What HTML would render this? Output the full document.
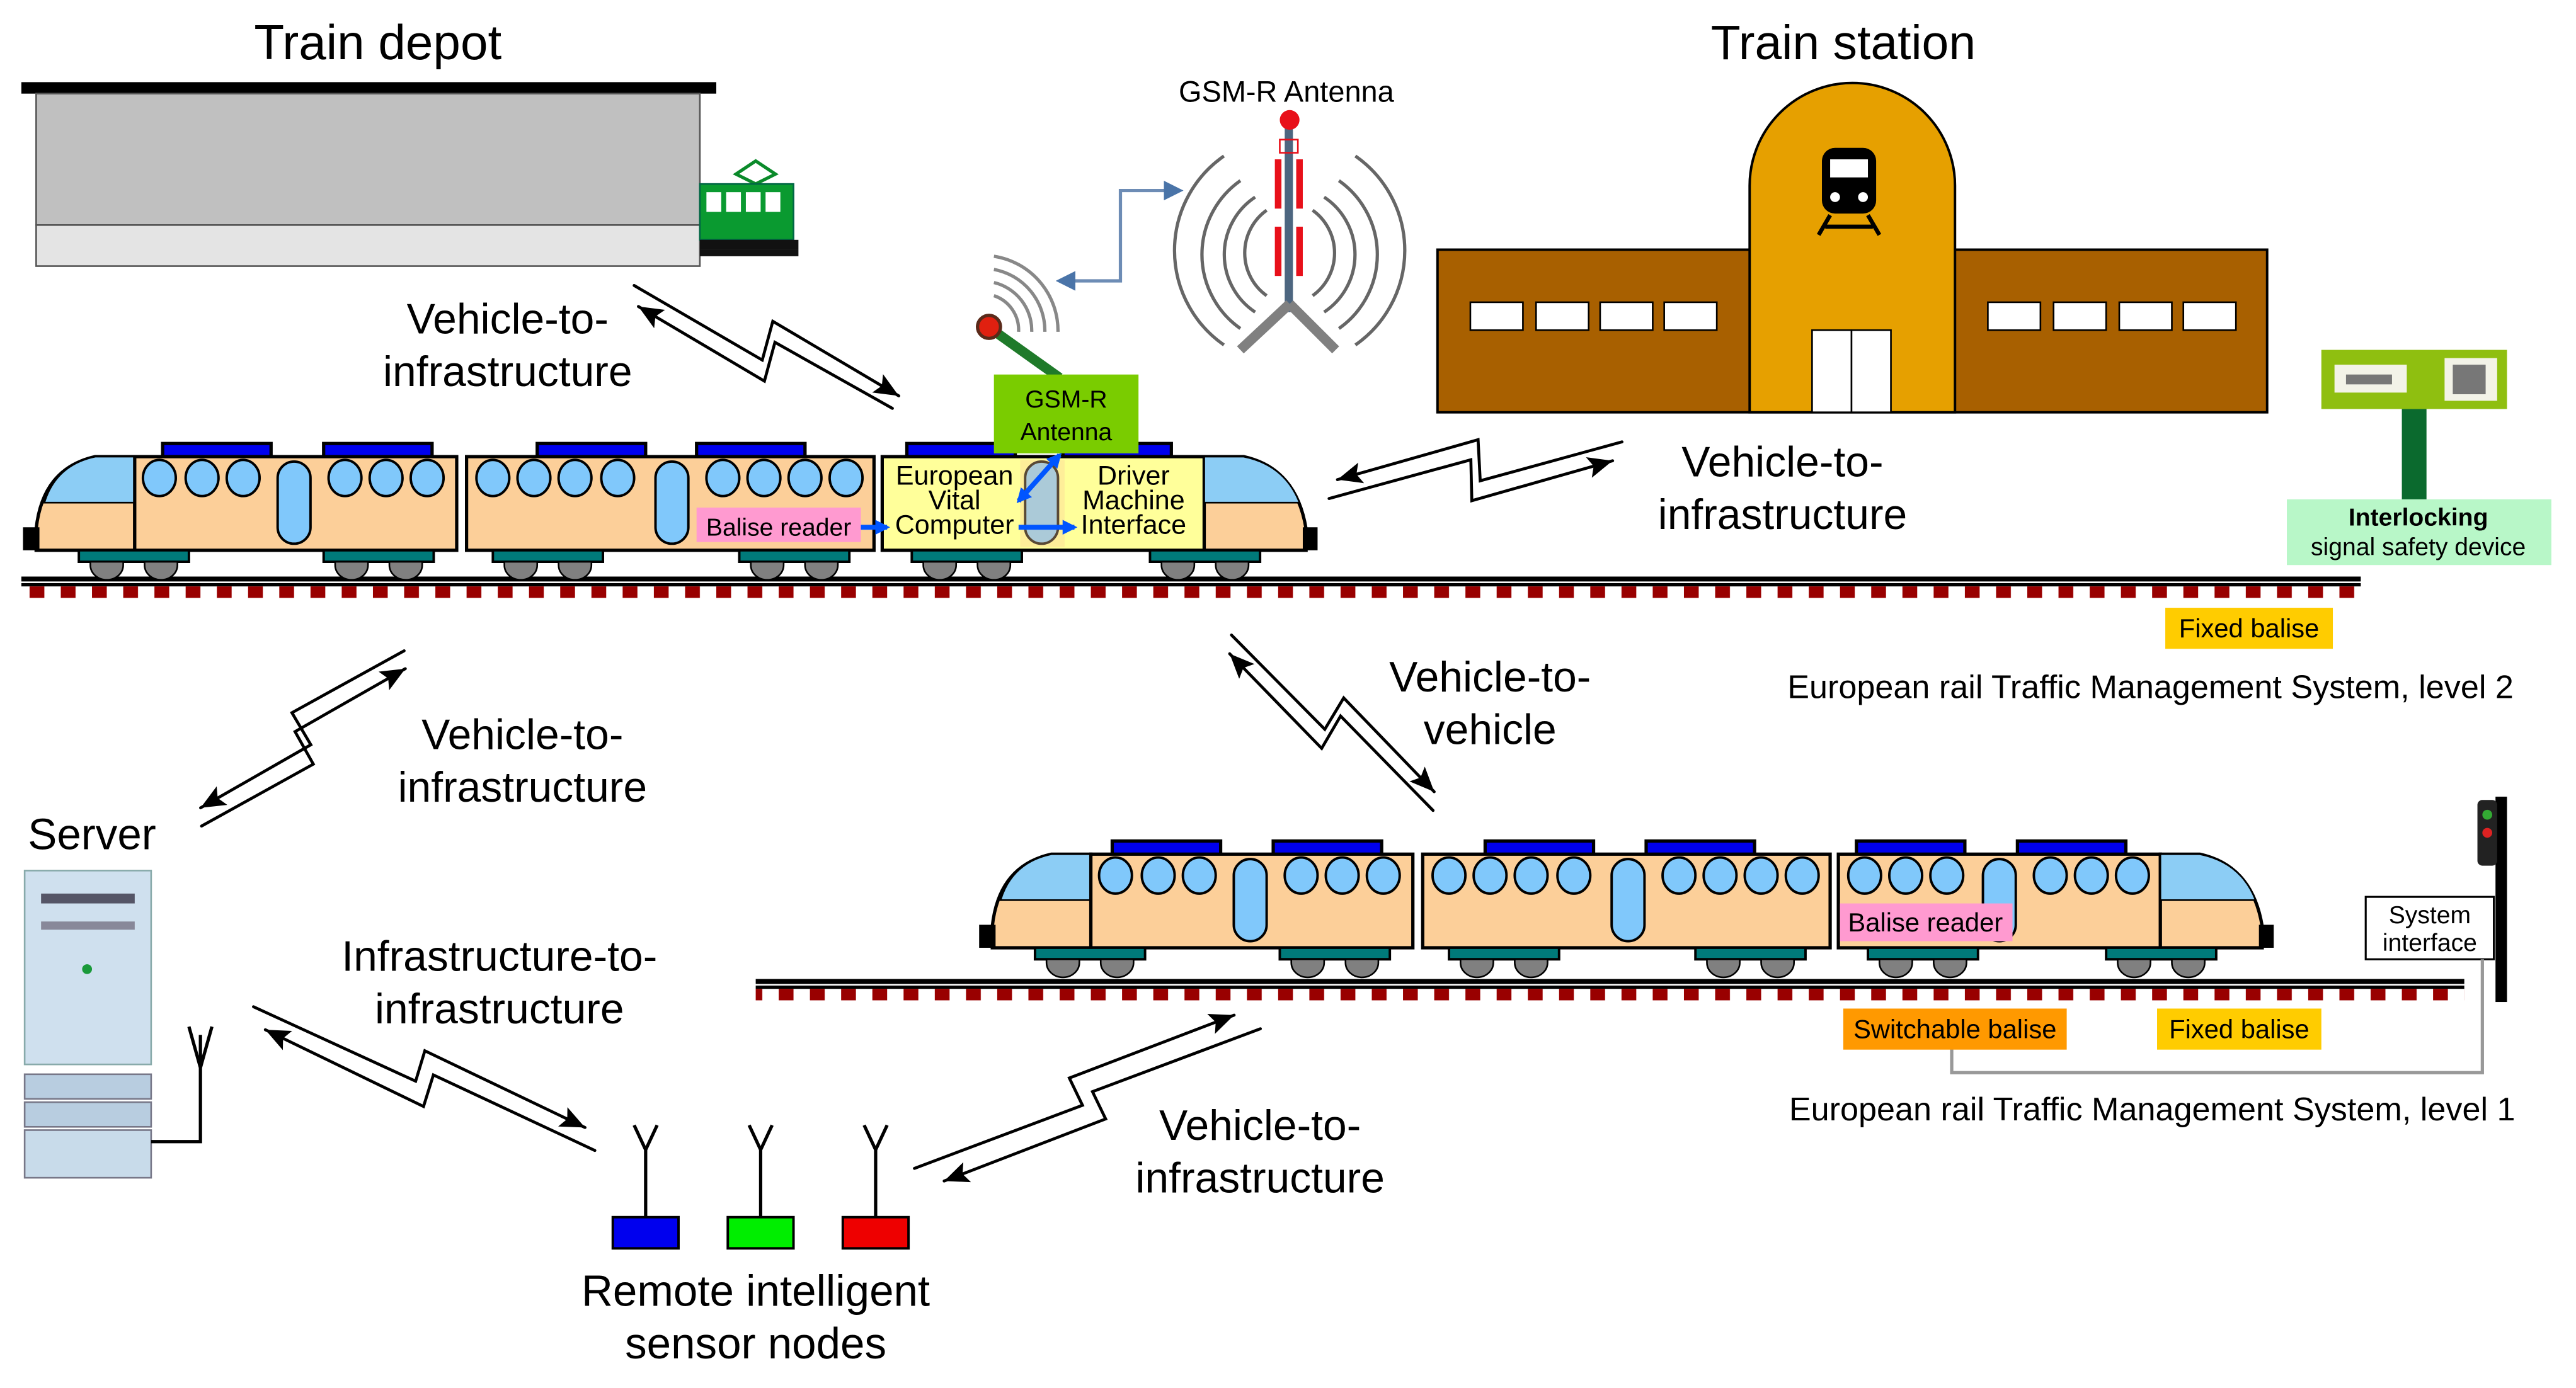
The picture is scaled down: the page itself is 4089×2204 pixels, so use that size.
<!DOCTYPE html>
<html><head><meta charset="utf-8">
<style>
html,body{margin:0;padding:0;background:#fff;}
svg{display:block;}
text{font-family:"Liberation Sans",Arial,sans-serif;fill:#000;}
</style></head>
<body>
<svg xmlns="http://www.w3.org/2000/svg" width="4089" height="2204" viewBox="0 0 1568 845" preserveAspectRatio="none">
<defs>
<marker id="ah" viewBox="0 0 10 10" refX="10" refY="5" markerWidth="15" markerHeight="13" markerUnits="userSpaceOnUse" orient="auto" preserveAspectRatio="none"><path d="M0,0 L10,5 L0,10 L2,5 z" fill="#000"/></marker>
<marker id="bh" viewBox="0 0 10 10" refX="8" refY="5" markerWidth="12" markerHeight="12" markerUnits="userSpaceOnUse" orient="auto-start-reverse"><path d="M0,0 L10,5 L0,10 z" fill="#4a74a8"/></marker>
<marker id="blh" viewBox="0 0 10 10" refX="8" refY="5" markerWidth="9" markerHeight="9" markerUnits="userSpaceOnUse" orient="auto-start-reverse"><path d="M0,0 L10,5 L0,10 z" fill="#0055ff"/></marker>
<pattern id="sl" x="18" y="0" width="19" height="10" patternUnits="userSpaceOnUse"><rect x="0" y="0" width="9" height="10" fill="#990000"/></pattern>
<g id="bog">
 <path d="M0,0 h67 v7 h-67z" fill="#007a7a" stroke="#000" stroke-width="1.5"/>
 <path d="M7,7 h20 v2 a10,9 0 0 1 -20,0z M40,7 h20 v2 a10,9 0 0 1 -20,0z" fill="#808080" stroke="#000" stroke-width="1"/>
</g>
<g id="roof"><rect x="0" y="0" width="66" height="10" fill="#0000ee" stroke="#000" stroke-width="2"/></g>
</defs>

<!-- ===== Depot ===== -->
<text x="230" y="36" font-size="30" text-anchor="middle">Train depot</text>
<rect x="13" y="50" width="423" height="7" fill="#000"/>
<rect x="22" y="57" width="404" height="80" fill="#c0c0c0" stroke="#555" stroke-width="1"/>
<rect x="22" y="137" width="404" height="25" fill="#e4e4e4" stroke="#555" stroke-width="1"/>
<path d="M448,106 l12,-8 l12,8 l-12,6z" fill="none" stroke="#0a8a2a" stroke-width="2"/>
<rect x="426" y="112" width="57" height="34" fill="#0a9a30" stroke="#064" stroke-width="1"/>
<rect x="430" y="117" width="9" height="12" fill="#fff"/><rect x="442" y="117" width="9" height="12" fill="#fff"/><rect x="454" y="117" width="9" height="12" fill="#fff"/><rect x="466" y="117" width="9" height="12" fill="#fff"/>
<rect x="426" y="146" width="60" height="6" fill="#111"/>
<rect x="426" y="152" width="60" height="4" fill="#111"/>

<!-- ===== GSM-R ===== -->
<text x="783" y="62" font-size="18" text-anchor="middle" fill="#222">GSM-R Antenna</text>
<g fill="none" stroke="#666" stroke-width="2">
 <path d="M745,95 A70,70 0 0 0 745,210"/><path d="M825,95 A70,70 0 0 1 825,210"/>
 <path d="M755,110 A55,55 0 0 0 755,200"/><path d="M815,110 A55,55 0 0 1 815,200"/>
 <path d="M764,120 A42,42 0 0 0 764,190"/><path d="M806,120 A42,42 0 0 1 806,190"/>
 <path d="M771,128 A32,32 0 0 0 771,180"/><path d="M799,128 A32,32 0 0 1 799,180"/>
</g>
<rect x="782" y="78" width="5" height="112" fill="#4d6680"/>
<circle cx="785" cy="73" r="6" fill="#e8101a"/>
<rect x="776" y="97" width="4" height="30" fill="#e8101a"/><rect x="789" y="97" width="4" height="30" fill="#e8101a"/>
<rect x="776" y="138" width="4" height="30" fill="#e8101a"/><rect x="789" y="138" width="4" height="30" fill="#e8101a"/>
<rect x="779" y="85" width="11" height="8" fill="none" stroke="#e8101a" stroke-width="1"/>
<path d="M785,185 L755,213 M785,185 L813,213" stroke="#808080" stroke-width="6" fill="none"/>
<path d="M645,171 H682 V116 H718" fill="none" stroke="#6d8cb5" stroke-width="2" marker-start="url(#bh)" marker-end="url(#bh)"/>
<g fill="none" stroke="#888" stroke-width="2">
 <path d="M605,180 A22,22 0 0 1 620,202"/><path d="M605,172 A30,30 0 0 1 628,202"/><path d="M605,164 A38,38 0 0 1 636,202"/><path d="M605,156 A46,46 0 0 1 644,202"/>
</g>
<path d="M603,200 L645,230" stroke="#1f7a2a" stroke-width="6"/>
<circle cx="602" cy="199" r="7" fill="#e02010" stroke="#5a2a1a" stroke-width="2"/>

<!-- ===== Station ===== -->
<text x="1122" y="36" font-size="29.5" text-anchor="middle">Train station</text>
<rect x="875" y="152" width="505" height="99" fill="#a86000" stroke="#000" stroke-width="1.5"/>
<path d="M1065,251 V113 A62.5,62.5 0 0 1 1190,113 V251z" fill="#e6a000" stroke="#000" stroke-width="1.5"/>
<g fill="#fff" stroke="#000" stroke-width="1">
<rect x="895" y="184" width="32" height="17"/><rect x="935" y="184" width="32" height="17"/><rect x="974" y="184" width="32" height="17"/><rect x="1013" y="184" width="32" height="17"/>
<rect x="1210" y="184" width="32" height="17"/><rect x="1250" y="184" width="32" height="17"/><rect x="1290" y="184" width="32" height="17"/><rect x="1329" y="184" width="32" height="17"/>
<rect x="1103" y="201" width="24" height="50"/><rect x="1127" y="201" width="24" height="50"/>
</g>
<rect x="1109" y="90" width="33" height="40" rx="8" fill="#000"/>
<rect x="1114" y="97" width="23" height="11" fill="#fff"/>
<circle cx="1117" cy="120" r="3" fill="#fff"/><circle cx="1134" cy="120" r="3" fill="#fff"/>
<path d="M1114,131 L1107,143 M1137,131 L1144,143 M1111,138 H1140" stroke="#000" stroke-width="2.5"/>

<!-- ===== Interlocking ===== -->
<rect x="1413" y="213" width="113" height="36" fill="#8fbf10"/>
<rect x="1421" y="222" width="44" height="17" fill="#f3f3e8"/><rect x="1428" y="228" width="28" height="6" fill="#777"/>
<rect x="1488" y="218" width="32" height="26" fill="#f3f3e8"/><rect x="1493" y="222" width="20" height="18" fill="#777"/>
<rect x="1462" y="249" width="15" height="55" fill="#0b6a2e"/>
<rect x="1392" y="304" width="161" height="40" fill="#b8f7c8"/>
<text x="1472" y="320" font-size="15" font-weight="bold" text-anchor="middle">Interlocking</text>
<text x="1472" y="338" font-size="15" text-anchor="middle">signal safety device</text>

<!-- ===== Track 1 ===== -->
<rect x="13" y="351" width="1424" height="3" fill="#000"/>
<rect x="13" y="355" width="1424" height="2" fill="#000"/>
<rect x="13" y="357" width="1424" height="7" fill="url(#sl)"/>

<!-- ===== Train 1 ===== -->
<g stroke="#000" stroke-width="2">
 <use href="#roof" x="99" y="270"/><use href="#roof" x="197" y="270"/>
 <use href="#roof" x="327" y="270"/><use href="#roof" x="424" y="270"/>
 <use href="#roof" x="552" y="270"/><use href="#roof" x="647" y="270"/>
 <path d="M22,335 V322 Q26,285 58,278 H82 V335z" fill="#fccf99"/>
 <path d="M82,278 H58 Q34,283 27,306 H82z" fill="#8ccdf5" stroke-width="1"/>
 <rect x="82" y="278" width="196" height="57" fill="#fccf99"/>
 <rect x="15" y="322" width="8" height="12" fill="#000"/>
 <rect x="284" y="278" width="248" height="57" fill="#fccf99"/>
 <rect x="537" y="278" width="196" height="57" fill="#ffff9a"/>
 <path d="M733,335 V278 H757 Q789,285 795,322 V335z" fill="#fccf99"/>
 <path d="M733,278 H757 Q782,283 791,306 H733z" fill="#8ccdf5" stroke-width="1"/>
 <rect x="794" y="322" width="7" height="12" fill="#000"/>
</g>
<g fill="#80c8fb" stroke="#000" stroke-width="1.5">
 <ellipse cx="97" cy="291" rx="10" ry="11"/><ellipse cx="123" cy="291" rx="10" ry="11"/><ellipse cx="148" cy="291" rx="10" ry="11"/>
 <rect x="169" y="281" width="20" height="50" rx="10"/>
 <ellipse cx="210" cy="291" rx="10" ry="11"/><ellipse cx="235" cy="291" rx="10" ry="11"/><ellipse cx="260" cy="291" rx="10" ry="11"/>
 <ellipse cx="300" cy="291" rx="10" ry="11"/><ellipse cx="325" cy="291" rx="10" ry="11"/><ellipse cx="350" cy="291" rx="10" ry="11"/><ellipse cx="376" cy="291" rx="10" ry="11"/>
 <rect x="399" y="281" width="20" height="50" rx="10"/>
 <ellipse cx="440" cy="291" rx="10" ry="11"/><ellipse cx="465" cy="291" rx="10" ry="11"/><ellipse cx="490" cy="291" rx="10" ry="11"/><ellipse cx="515" cy="291" rx="10" ry="11"/>
 <rect x="624" y="281" width="20" height="50" rx="10"/>
</g>
<rect x="621" y="280" width="27" height="53" fill="#fccf99" opacity="0.35"/>
<use href="#bog" x="48" y="335"/><use href="#bog" x="197" y="335"/>
<use href="#bog" x="300" y="335"/><use href="#bog" x="450" y="335"/>
<use href="#bog" x="555" y="335"/><use href="#bog" x="700" y="335"/>
<rect x="424" y="309" width="100" height="21" fill="#ff9ad0"/>
<text x="474" y="326" font-size="15" text-anchor="middle">Balise reader</text>
<rect x="605" y="228" width="88" height="48" fill="#7acc00"/>
<text x="649" y="248" font-size="15" text-anchor="middle">GSM-R</text>
<text x="649" y="268" font-size="15" text-anchor="middle">Antenna</text>
<text font-size="16.5" text-anchor="middle"><tspan x="581" y="295">European</tspan><tspan x="581" y="310">Vital</tspan><tspan x="581" y="325">Computer</tspan></text>
<text font-size="16.5" text-anchor="middle"><tspan x="690" y="295">Driver</tspan><tspan x="690" y="310">Machine</tspan><tspan x="690" y="325">Interface</tspan></text>
<g stroke="#0055ff" stroke-width="3" fill="none">
 <path d="M524,321 H540" marker-end="url(#blh)"/>
 <path d="M620,321 H654" marker-end="url(#blh)"/>
 <path d="M620,305 L645,277" marker-start="url(#blh)" marker-end="url(#blh)"/>
</g>

<!-- ===== Track 2 ===== -->
<rect x="460" y="596" width="1040" height="3" fill="#000"/>
<rect x="460" y="600" width="1040" height="2" fill="#000"/>
<rect x="460" y="602" width="1040" height="7" fill="url(#sl)"/>

<!-- ===== Train 2 ===== -->
<g transform="translate(582,242)">
<g stroke="#000" stroke-width="2">
 <use href="#roof" x="95" y="270"/><use href="#roof" x="193" y="270"/>
 <use href="#roof" x="322" y="270"/><use href="#roof" x="420" y="270"/>
 <use href="#roof" x="548" y="270"/><use href="#roof" x="646" y="270"/>
 <path d="M22,335 V322 Q26,285 58,278 H82 V335z" fill="#fccf99"/>
 <path d="M82,278 H58 Q34,283 27,306 H82z" fill="#8ccdf5" stroke-width="1"/>
 <rect x="82" y="278" width="196" height="57" fill="#fccf99"/>
 <rect x="15" y="322" width="8" height="12" fill="#000"/>
 <rect x="284" y="278" width="248" height="57" fill="#fccf99"/>
 <rect x="537" y="278" width="196" height="57" fill="#fccf99"/>
 <path d="M733,335 V278 H757 Q789,285 795,322 V335z" fill="#fccf99"/>
 <path d="M733,278 H757 Q782,283 791,306 H733z" fill="#8ccdf5" stroke-width="1"/>
 <rect x="794" y="322" width="7" height="12" fill="#000"/>
</g>
<g fill="#80c8fb" stroke="#000" stroke-width="1.5">
 <ellipse cx="97" cy="291" rx="10" ry="11"/><ellipse cx="123" cy="291" rx="10" ry="11"/><ellipse cx="148" cy="291" rx="10" ry="11"/>
 <rect x="169" y="281" width="20" height="50" rx="10"/>
 <ellipse cx="210" cy="291" rx="10" ry="11"/><ellipse cx="235" cy="291" rx="10" ry="11"/><ellipse cx="260" cy="291" rx="10" ry="11"/>
 <ellipse cx="300" cy="291" rx="10" ry="11"/><ellipse cx="325" cy="291" rx="10" ry="11"/><ellipse cx="350" cy="291" rx="10" ry="11"/><ellipse cx="376" cy="291" rx="10" ry="11"/>
 <rect x="399" y="281" width="20" height="50" rx="10"/>
 <ellipse cx="440" cy="291" rx="10" ry="11"/><ellipse cx="465" cy="291" rx="10" ry="11"/><ellipse cx="490" cy="291" rx="10" ry="11"/><ellipse cx="515" cy="291" rx="10" ry="11"/>
 <ellipse cx="553" cy="291" rx="10" ry="11"/><ellipse cx="578" cy="291" rx="10" ry="11"/><ellipse cx="603" cy="291" rx="10" ry="11"/>
 <rect x="625" y="281" width="20" height="50" rx="10"/>
 <ellipse cx="666" cy="291" rx="10" ry="11"/><ellipse cx="691" cy="291" rx="10" ry="11"/><ellipse cx="716" cy="291" rx="10" ry="11"/>
</g>
<use href="#bog" x="48" y="335"/><use href="#bog" x="197" y="335"/>
<use href="#bog" x="300" y="335"/><use href="#bog" x="450" y="335"/>
<use href="#bog" x="555" y="335"/><use href="#bog" x="700" y="335"/>
<rect x="538" y="308" width="105" height="23" fill="#ff9ad0"/>
<text x="590" y="325" font-size="16" text-anchor="middle">Balise reader</text>
</g>

<!-- ===== Right lower ===== -->
<rect x="1519" y="485" width="7" height="125" fill="#000"/>
<rect x="1508" y="487" width="12" height="40" rx="3" fill="#222"/>
<circle cx="1514" cy="496" r="3" fill="#3a3"/><circle cx="1514" cy="507" r="3" fill="#d22"/>
<rect x="1440" y="546" width="78" height="38" fill="#fff" stroke="#000" stroke-width="1.2"/>
<text x="1479" y="562" font-size="15" text-anchor="middle">System</text>
<text x="1479" y="579" font-size="15" text-anchor="middle">interface</text>
<path d="M1188,638 V653 H1511 V584" fill="none" stroke="#999" stroke-width="2"/>
<rect x="1122" y="614" width="136" height="25" fill="#ff9900"/>
<text x="1190" y="632" font-size="16" text-anchor="middle">Switchable balise</text>
<rect x="1313" y="614" width="100" height="25" fill="#ffcc00"/>
<text x="1363" y="632" font-size="16" text-anchor="middle">Fixed balise</text>
<rect x="1318" y="370" width="102" height="25" fill="#ffcc00"/>
<text x="1369" y="388" font-size="16" text-anchor="middle">Fixed balise</text>
<text x="1309" y="425" font-size="20" text-anchor="middle">European rail Traffic Management System, level 2</text>
<text x="1310" y="682" font-size="20" text-anchor="middle">European rail Traffic Management System, level 1</text>

<!-- ===== Server ===== -->
<text x="56" y="517" font-size="26.5" text-anchor="middle">Server</text>
<rect x="15" y="530" width="77" height="118" fill="#cfe0ee" stroke="#8aa" stroke-width="1"/>
<rect x="25" y="544" width="57" height="6" fill="#556" /><rect x="25" y="561" width="57" height="5" fill="#889"/>
<circle cx="53" cy="590" r="3" fill="#1a9a3a"/>
<rect x="15" y="654" width="77" height="15" fill="#b8cde0" stroke="#778" stroke-width="1"/>
<rect x="15" y="671" width="77" height="15" fill="#b8cde0" stroke="#778" stroke-width="1"/>
<rect x="15" y="688" width="77" height="29" fill="#c8dbea" stroke="#778" stroke-width="1"/>
<path d="M92,695 H122 V630 M122,650 L115,625 M122,650 L129,625" fill="none" stroke="#000" stroke-width="2"/>

<!-- ===== Sensors ===== -->
<g fill="none" stroke="#000" stroke-width="2">
 <path d="M393,741 V700 L386,685 M393,700 L400,685"/>
 <path d="M463,741 V700 L456,685 M463,700 L470,685"/>
 <path d="M533,741 V700 L526,685 M533,700 L540,685"/>
</g>
<rect x="373" y="741" width="40" height="19" fill="#0000ee" stroke="#000" stroke-width="1.5"/>
<rect x="443" y="741" width="40" height="19" fill="#00ee00" stroke="#000" stroke-width="1.5"/>
<rect x="513" y="741" width="40" height="19" fill="#ee0000" stroke="#000" stroke-width="1.5"/>
<text x="460" y="795" font-size="26.5" text-anchor="middle">Remote intelligent</text>
<text x="460" y="827" font-size="26.5" text-anchor="middle">sensor nodes</text>

<!-- ===== Lightning arrows (pairs of one-way zigzag arrows) ===== -->
<g fill="none" stroke="#000" stroke-width="1.8" stroke-linejoin="miter" stroke-linecap="round">
 <!-- 1 depot -->
 <polyline points="386,173.8 464,219.2 470.4,195.6 547.1,241" marker-end="url(#ah)"/>
 <polyline points="543.2,248.6 471.7,208.4 465.3,232 388.6,186.6" marker-end="url(#ah)"/>
 <!-- 2 station -->
 <polyline points="987.3,269 901,292.7 899.7,267.7 814.1,292" marker-end="url(#ah)"/>
 <polyline points="809,303.5 895.3,279.9 895.9,304.8 981.6,280.5" marker-end="url(#ah)"/>
 <!-- 3 server -->
 <polyline points="246,396.2 177.7,433.9 189.2,453.4 122.1,491.8" marker-end="url(#ah)"/>
 <polyline points="122.7,502.9 190.7,465.2 179.6,445.4 246.7,407.1" marker-end="url(#ah)"/>
 <!-- 4 v2v -->
 <polyline points="749.6,386.6 806.4,444 817.9,424.9 873,482" marker-end="url(#ah)"/>
 <polyline points="872.3,493.4 816,435.9 804.5,455.6 748.5,398" marker-end="url(#ah)"/>
 <!-- 5 infra-infra -->
 <polyline points="154.3,612.9 253,658.2 258.6,639.7 356.1,686.4" marker-end="url(#ah)"/>
 <polyline points="362.1,700.4 263.8,654.4 257.8,673.6 161.5,626.9" marker-end="url(#ah)"/>
 <!-- 6 train2-sensors -->
 <polyline points="556.6,711.3 658.9,672.9 650.9,656.3 751.2,618" marker-end="url(#ah)"/>
 <polyline points="767.2,626.3 665,664.6 673,681.2 574.7,719" marker-end="url(#ah)"/>
</g>

<!-- ===== Labels ===== -->
<g font-size="26" text-anchor="middle">
<text x="309" y="203">Vehicle-to-</text><text x="309" y="235">infrastructure</text>
<text x="1085" y="290">Vehicle-to-</text><text x="1085" y="322">infrastructure</text>
<text x="318" y="456">Vehicle-to-</text><text x="318" y="488">infrastructure</text>
<text x="907" y="421">Vehicle-to-</text><text x="907" y="453">vehicle</text>
<text x="304" y="591">Infrastructure-to-</text><text x="304" y="623">infrastructure</text>
<text x="767" y="694">Vehicle-to-</text><text x="767" y="726">infrastructure</text>
</g>
</svg>
</body></html>
